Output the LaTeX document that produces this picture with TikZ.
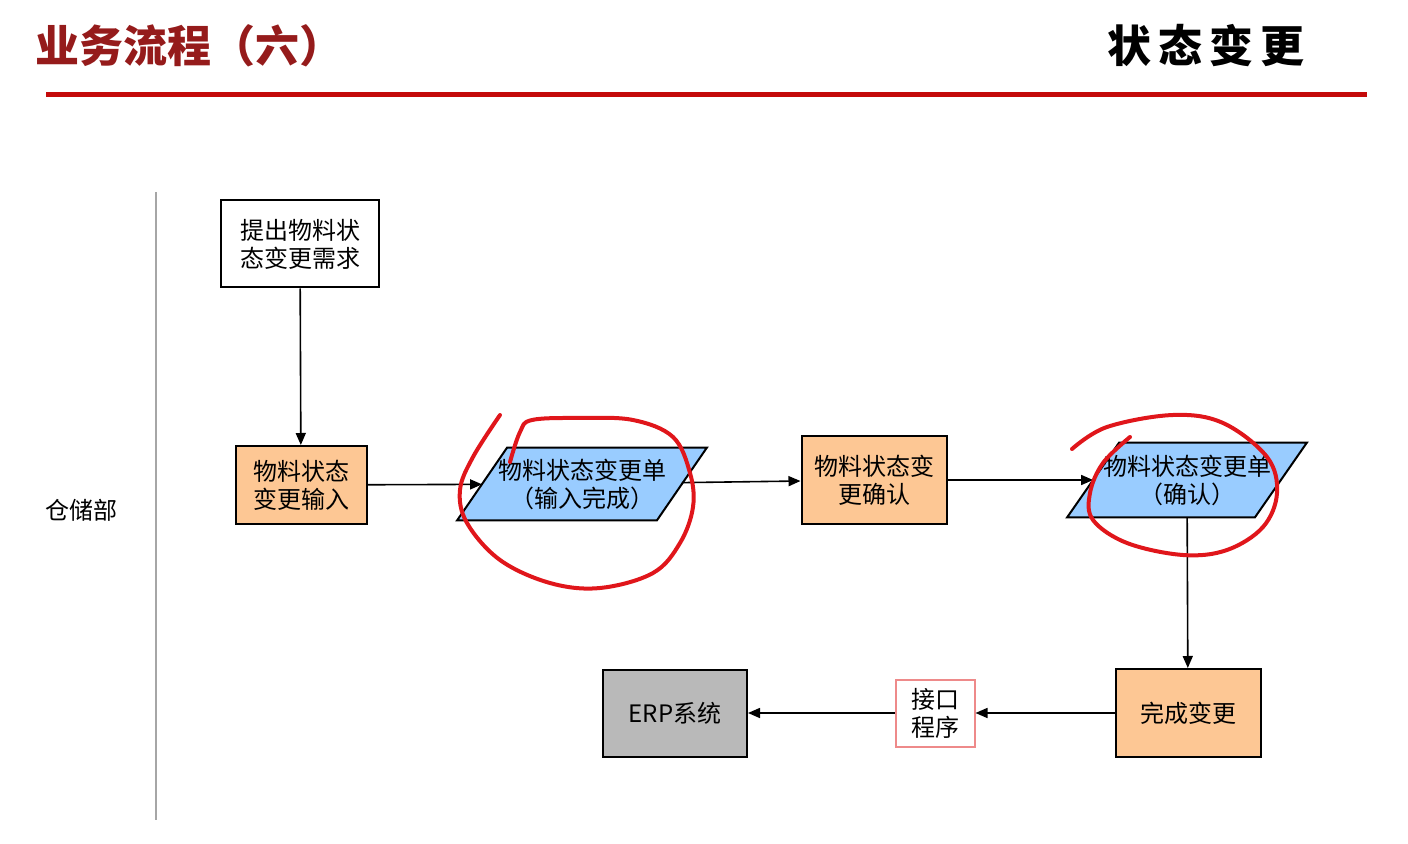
\documentclass[tikz,border=0pt]{standalone}
\usepackage{fontspec}
\setmainfont{Noto Sans CJK SC}
\usepackage{xcolor}
\usetikzlibrary{arrows.meta, backgrounds}

\definecolor{titlered}{HTML}{951B1B}
\definecolor{barred}{HTML}{C40A0A}
\definecolor{boxorange}{HTML}{FDC794}
\definecolor{slipblue}{HTML}{99CCFF}
\definecolor{erpgray}{HTML}{B9B9B9}
\definecolor{portpink}{HTML}{EE8A8A}
\definecolor{penred}{HTML}{E0161B}

\begin{document}
\begin{tikzpicture}[x=0.5pt, y=-0.5pt,
		box/.style={draw=black, line width=1pt, align=center, inner sep=0pt,
			font=\fontsize{12}{14}\selectfont},
		slip/.style={align=center, inner sep=0pt, font=\fontsize{12}{14}\selectfont},
		flow/.style={-{Triangle[length=6pt, width=5pt]}, line width=0.8pt},
		pen/.style={penred, line width=2pt, line cap=round, line join=round}]
		\useasboundingbox (0, 0) rectangle (1408, 844);
		% heading
		\node[anchor=west, text=titlered, font=\fontsize{22}{24}\selectfont\bfseries]
		(title) at (28, 46) {业务流程（六）};
		\node[anchor=east, font=\fontsize{22}{24}\selectfont\bfseries]
		(topic) at (1312, 46) {状\hspace{3.5pt}态\hspace{3.5pt}变\hspace{3.5pt}更};
		\draw[barred, line width=2.5pt] (46, 95) -- (1367, 95);
		% lane
		\draw[gray!70, line width=0.6pt] (156, 192) -- (156, 820);
		\node[font=\fontsize{12}{14}\selectfont] (lane) at (82, 510) {仓储部};
		% steps
		\node[box, minimum width=79pt, minimum height=43.5pt] (need) at (300, 244)
		{提出物料状\\态变更需求};
		\node[box, fill=boxorange, minimum width=65.5pt, minimum height=39pt] (input) at (301, 485)
		{物料状态\\变更输入};
		\node[slip, minimum width=99.5pt, minimum height=36pt] (slipA) at (582, 484)
		{物料状态变更单\\（输入完成）};
		\node[box, fill=boxorange, minimum width=72.5pt, minimum height=43.5pt] (confirm) at (874, 480)
		{物料状态变\\更确认};
		\node[slip, minimum width=93.5pt, minimum height=37pt] (slipB) at (1187, 480)
		{物料状态变更单\\（确认）};
		\node[box, fill=boxorange, minimum width=72.5pt, minimum height=44pt] (done) at (1188, 713)
		{完成变更};
		\node[box, draw=portpink, fill=white, minimum width=39.5pt, minimum height=33.5pt] (port) at (935, 713)
		{接口\\程序};
		\node[box, fill=erpgray, minimum width=72pt, minimum height=43.5pt] (erp) at (675, 713)
		{ERP系统};
		% slanted slips
		\begin{scope}[on background layer]
			\foreach \s/\d in {slipA/12.5pt, slipB/13pt}
			\draw[line width=1pt, fill=slipblue]
			([xshift=\d]\s.north west) -- ([xshift=\d]\s.north east)
			-- ([xshift=-\d]\s.south east) -- ([xshift=-\d]\s.south west) -- cycle;
		\end{scope}
		% connectors
		\draw[flow] (need) -- (input);
		\draw[flow] (input) -- (slipA);
		\draw[flow] (slipA) -- (confirm);
		\draw[flow] (confirm) -- (slipB);
		\draw[flow] (slipB) -- (done);
		\draw[flow] (done) -- (port);
		\draw[flow] (port) -- (erp);
		% hand-drawn marks
		\draw[pen] plot[smooth, tension=0.6] coordinates {
			(500, 415) (473, 457) (460, 490) (467, 523) (500, 560) (550, 583)
			(600, 588) (653, 573) (680, 543) (693, 507) (690, 473) (673, 437)
			(633, 420) (580, 418) (532, 420) (520, 432) (510, 462)};
		\draw[pen] plot[smooth, tension=0.6] coordinates {
			(1072, 449) (1107, 427) (1173, 415) (1223, 423) (1267, 457) (1277, 493)
			(1263, 527) (1227, 550) (1183, 555) (1127, 543) (1093, 520) (1090, 493)
			(1103, 463) (1130, 437)};
	\end{tikzpicture}
\end{document}
